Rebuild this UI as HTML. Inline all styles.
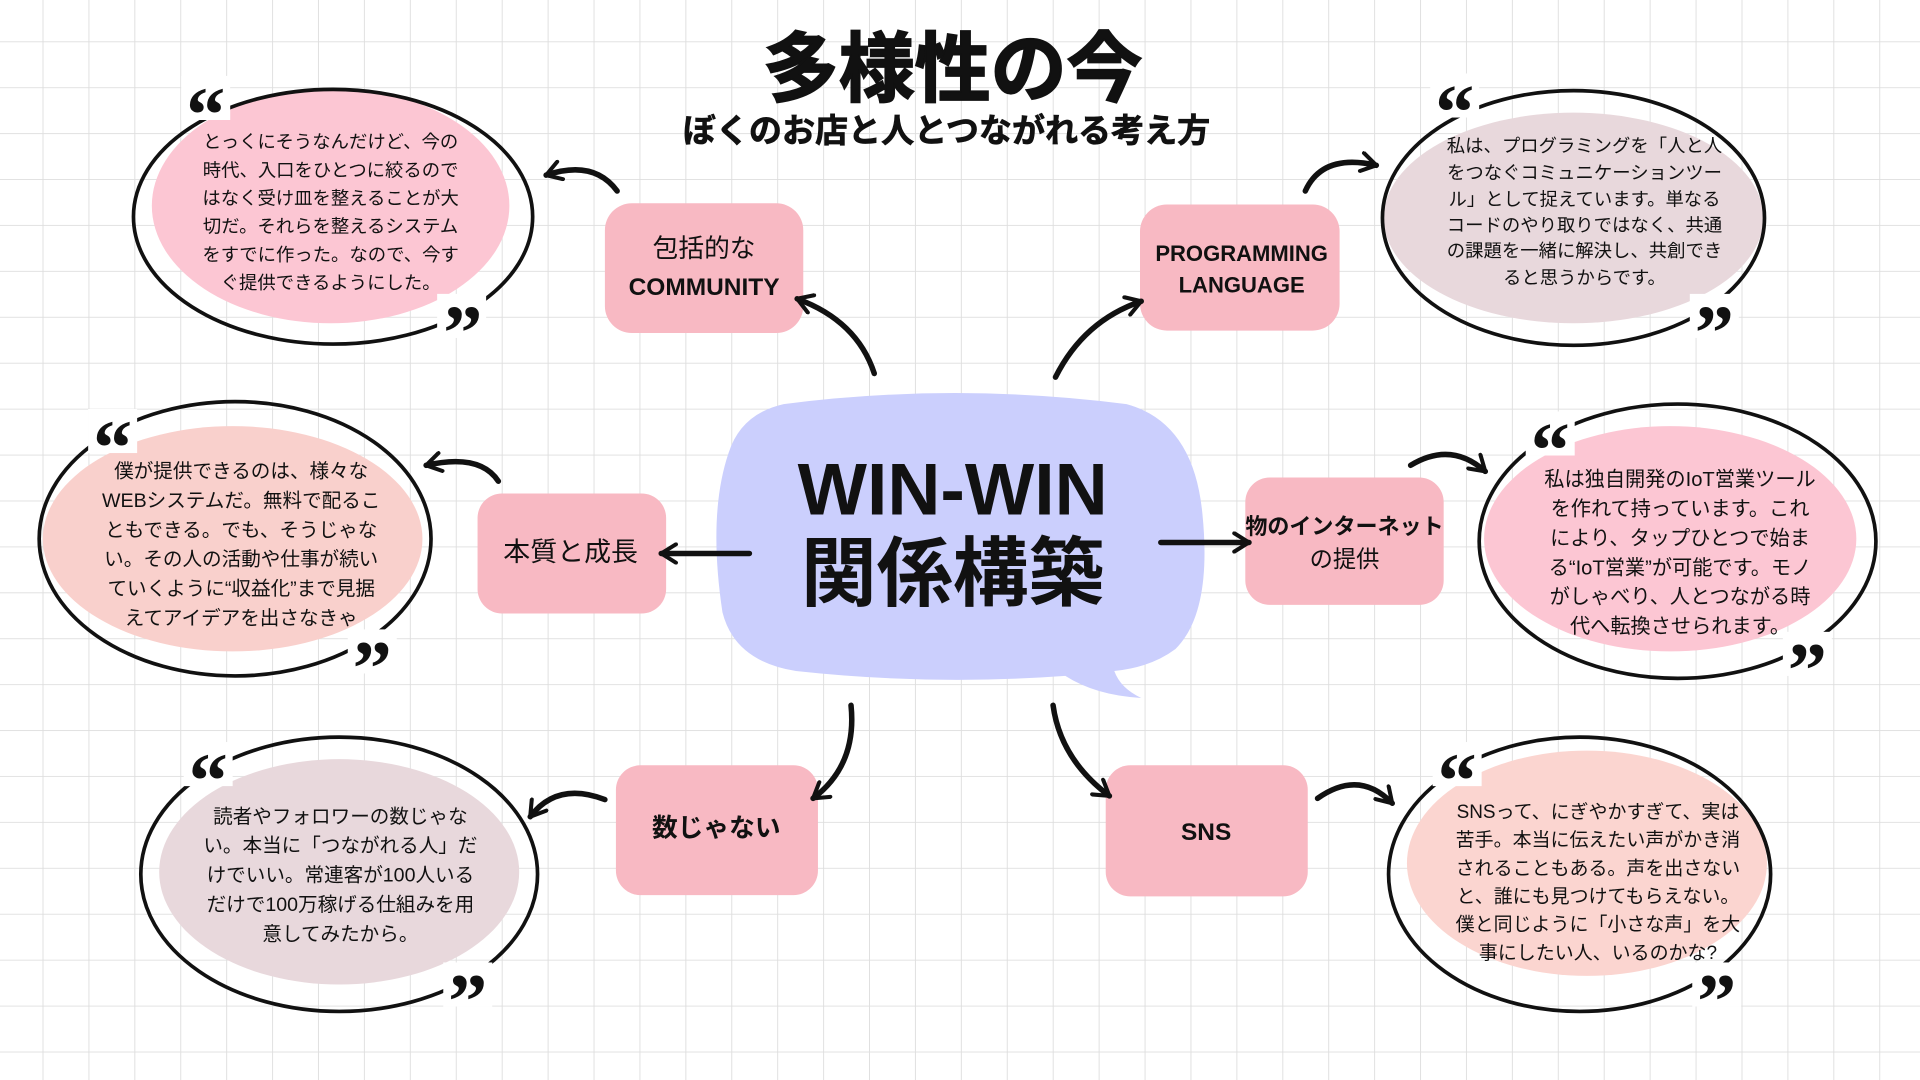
<!DOCTYPE html>
<html><head><meta charset="utf-8"><style>
html,body{margin:0;padding:0;width:1920px;height:1080px;overflow:hidden;background:#fff}
svg{display:block}
text{font-family:"Liberation Sans","Noto Sans CJK JP",sans-serif;fill:#111}
.b{font-weight:bold}
.p{font-size:15px;text-anchor:middle}
.q{font-family:"Liberation Serif","Noto Serif CJK SC",serif;font-weight:bold;font-size:64px;text-anchor:middle;fill:#111}
.box{fill:#f8b9c3}
.ol{fill:none;stroke:#111;stroke-width:3}
.ar{fill:none;stroke:#111;stroke-width:4.5;stroke-linecap:round}
</style></head><body>
<svg width="1920" height="1080" viewBox="0 0 1568 882" xmlns="http://www.w3.org/2000/svg">
<defs>
<pattern id="g" x="-2" y="-3" width="37.5" height="37.5" patternUnits="userSpaceOnUse">
<path d="M37.5 0V37.5M0 37.5H37.5" stroke="#dedede" stroke-width="1.5" fill="none"/>
</pattern>
<marker id="m" viewBox="0 0 12 12" refX="10" refY="6" markerWidth="18" markerHeight="18" markerUnits="userSpaceOnUse" orient="auto">
<path d="M2,1 L10,6 L2,11" fill="none" stroke="#111" stroke-width="2.2" stroke-linecap="round" stroke-linejoin="round"/>
</marker>
</defs>
<rect width="1568" height="882" fill="url(#g)"/>

<!-- title -->
<text x="778" y="78" text-anchor="middle" class="b" font-size="62" stroke="#111" stroke-width="1.5">多様性の今</text>
<text x="773" y="116" text-anchor="middle" class="b" font-size="27" stroke="#111" stroke-width="0.6">ぼくのお店と人とつながれる考え方</text>

<!-- center bubble -->
<path d="M640 330 Q780 312 920 330 Q975 345 982 420 Q990 500 960 530 Q940 545 910 548 Q915 562 932 570 Q895 568 870 552 Q760 560 650 548 Q600 540 590 500 Q578 420 595 370 Q605 338 640 330Z" fill="#cbcffd"/>
<text x="778" y="420" text-anchor="middle" class="b" font-size="60">WIN-WIN</text>
<text x="778" y="490" text-anchor="middle" class="b" font-size="62">関係構築</text>

<!-- boxes -->
<rect class="box" x="494" y="166" width="162" height="106" rx="22"/>
<text x="575" y="210" text-anchor="middle" font-size="21">包括的な</text>
<text x="575" y="241" text-anchor="middle" class="b" font-size="20">COMMUNITY</text>

<rect class="box" x="931" y="167" width="163" height="103" rx="22"/>
<text x="1014" y="213" text-anchor="middle" class="b" font-size="18">PROGRAMMING</text>
<text x="1014" y="239" text-anchor="middle" class="b" font-size="18">LANGUAGE</text>

<rect class="box" x="390" y="403" width="154" height="98" rx="20"/>
<text x="466" y="458" text-anchor="middle" font-size="22">本質と成長</text>

<rect class="box" x="1017" y="390" width="162" height="104" rx="20"/>
<text x="1098" y="436" text-anchor="middle" class="b" font-size="18">物のインターネット</text>
<text x="1098" y="463" text-anchor="middle" font-size="19">の提供</text>

<rect class="box" x="503" y="625" width="165" height="106" rx="20"/>
<text x="585" y="683" text-anchor="middle" class="b" font-size="21">数じゃない</text>

<rect class="box" x="903" y="625" width="165" height="107" rx="20"/>
<text x="985" y="686" text-anchor="middle" class="b" font-size="20">SNS</text>

<!-- ellipses -->
<ellipse cx="270" cy="168" rx="146" ry="96" fill="#fcc6d3"/>
<ellipse class="ol" cx="272" cy="177" rx="163" ry="104"/>
<ellipse cx="1285" cy="178" rx="155" ry="86" fill="#e8d8dc"/>
<ellipse class="ol" cx="1285" cy="178" rx="156" ry="104"/>
<ellipse cx="190" cy="440" rx="155" ry="92" fill="#f9d0cc"/>
<ellipse class="ol" cx="192" cy="440" rx="160" ry="112"/>
<ellipse cx="1364" cy="440" rx="152" ry="92" fill="#fcc6d3"/>
<ellipse class="ol" cx="1370" cy="442" rx="162" ry="112"/>
<ellipse cx="277" cy="712" rx="147" ry="92" fill="#e8d8dc"/>
<ellipse class="ol" cx="277" cy="714" rx="162" ry="112"/>
<ellipse cx="1296" cy="705" rx="147" ry="92" fill="#fbd5d0"/>
<ellipse class="ol" cx="1290" cy="714" rx="156" ry="112"/>

<!-- quote masks + quotes -->
<g fill="#fff">
<rect x="148" y="62" width="40" height="36"/><rect x="357" y="240" width="40" height="36"/>
<rect x="1168" y="60" width="40" height="36"/><rect x="1380" y="240" width="40" height="36"/>
<rect x="72" y="334" width="40" height="36"/><rect x="284" y="514" width="40" height="36"/>
<rect x="1246" y="336" width="40" height="36"/><rect x="1456" y="516" width="40" height="36"/>
<rect x="150" y="606" width="40" height="36"/><rect x="362" y="786" width="40" height="36"/>
<rect x="1170" y="606" width="40" height="36"/><rect x="1382" y="786" width="40" height="36"/>
</g>
<text class="q" x="168" y="115">“</text><text class="q" x="378" y="293">”</text>
<text class="q" x="1188" y="113">“</text><text class="q" x="1400" y="293">”</text>
<text class="q" x="92" y="387">“</text><text class="q" x="304" y="567">”</text>
<text class="q" x="1266" y="389">“</text><text class="q" x="1476" y="569">”</text>
<text class="q" x="170" y="659">“</text><text class="q" x="382" y="839">”</text>
<text class="q" x="1190" y="659">“</text><text class="q" x="1402" y="839">”</text>

<!-- ellipse texts -->
<g class="p" font-size="15">
<text x="270" y="121">とっくにそうなんだけど、今の</text>
<text x="270" y="144">時代、入口をひとつに絞るので</text>
<text x="270" y="167">はなく受け皿を整えることが大</text>
<text x="270" y="190">切だ。それらを整えるシステム</text>
<text x="270" y="213">をすでに作った。なので、今す</text>
<text x="270" y="236">ぐ提供できるようにした。</text>
</g>
<g class="p" font-size="14.5">
<text x="1294" y="124">私は、プログラミングを「人と人</text>
<text x="1294" y="146">をつなぐコミュニケーションツー</text>
<text x="1294" y="168">ル」として捉えています。単なる</text>
<text x="1294" y="189">コードのやり取りではなく、共通</text>
<text x="1294" y="210">の課題を一緒に解決し、共創でき</text>
<text x="1294" y="232">ると思うからです。</text>
</g>
<g class="p" style="font-size:16px">
<text x="197" y="390">僕が提供できるのは、様々な</text>
<text x="197" y="414">WEBシステムだ。無料で配るこ</text>
<text x="197" y="438">ともできる。でも、そうじゃな</text>
<text x="197" y="462">い。その人の活動や仕事が続い</text>
<text x="197" y="486">ていくように“収益化”まで見据</text>
<text x="197" y="510">えてアイデアを出さなきゃ</text>
</g>
<g class="p" style="font-size:16.5px">
<text x="1372" y="397">私は独自開発のIoT営業ツール</text>
<text x="1372" y="421">を作れて持っています。これ</text>
<text x="1372" y="445">により、タップひとつで始ま</text>
<text x="1372" y="469">る“IoT営業”が可能です。モノ</text>
<text x="1372" y="493">がしゃべり、人とつながる時</text>
<text x="1372" y="517">代へ転換させられます。</text>
</g>
<g class="p" style="font-size:16px">
<text x="278" y="672">読者やフォロワーの数じゃな</text>
<text x="278" y="696">い。本当に「つながれる人」だ</text>
<text x="278" y="720">けでいい。常連客が100人いる</text>
<text x="278" y="744">だけで100万稼げる仕組みを用</text>
<text x="278" y="768">意してみたから。</text>
</g>
<g class="p" style="font-size:15.5px">
<text x="1305" y="668">SNSって、にぎやかすぎて、実は</text>
<text x="1305" y="691">苦手。本当に伝えたい声がかき消</text>
<text x="1305" y="714">されることもある。声を出さない</text>
<text x="1305" y="737">と、誰にも見つけてもらえない。</text>
<text x="1305" y="760">僕と同じように「小さな声」を大</text>
<text x="1305" y="783">事にしたい人、いるのかな?</text>
</g>

<!-- arrows -->
<g class="ar" marker-end="url(#m)">
<path d="M714 305 Q700 262 651 244"/>
<path d="M504 156 Q485 130 446 143"/>
<path d="M862 308 Q885 262 932 246"/>
<path d="M1066 156 Q1080 125 1124 135"/>
<path d="M612 452 L540 452"/>
<path d="M407 393 Q392 370 348 380"/>
<path d="M948 443 L1020 443"/>
<path d="M1152 380 Q1185 360 1213 385"/>
<path d="M695 576 Q700 625 664 652"/>
<path d="M494 653 Q455 638 433 667"/>
<path d="M860 576 Q866 620 906 650"/>
<path d="M1076 652 Q1110 628 1137 656"/>
</g>
</svg>
</body></html>
